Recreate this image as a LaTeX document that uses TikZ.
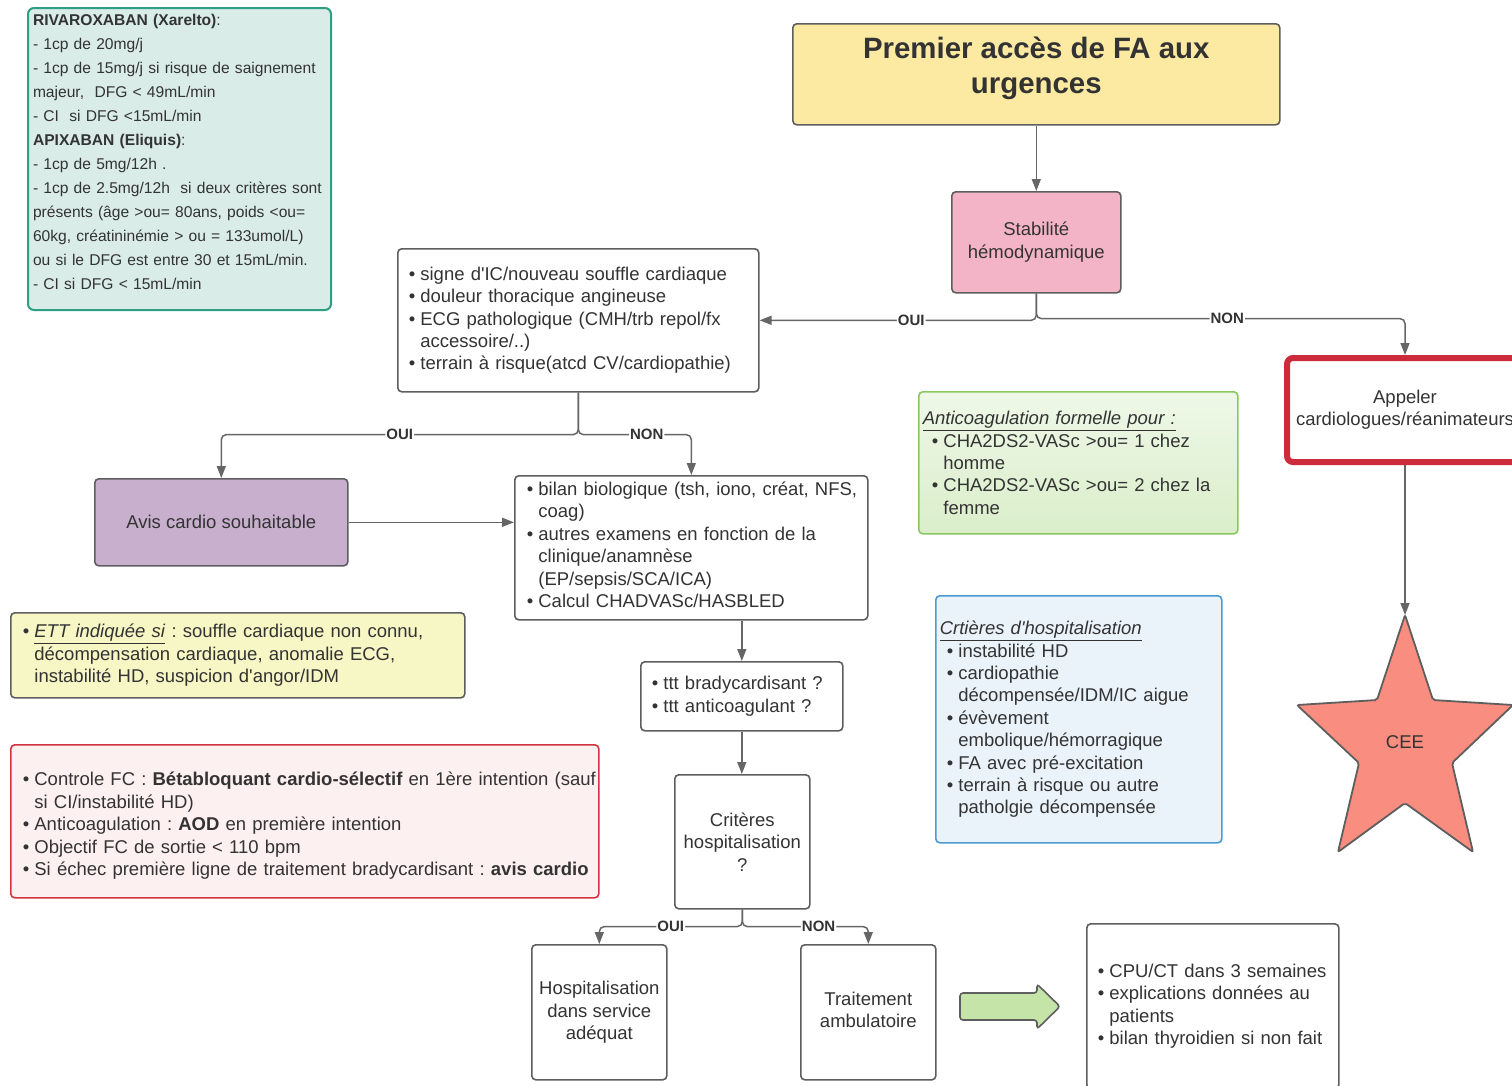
\documentclass[tikz,border=0pt]{standalone}
\usepackage{fontspec}
\setmainfont{Liberation Sans}
\usetikzlibrary{arrows.meta}
\definecolor{bgray}{HTML}{5E5E5E}
\definecolor{cgray}{HTML}{666666}
\definecolor{txt}{HTML}{333333}
\definecolor{tealfill}{HTML}{D9ECE7}
\definecolor{tealdraw}{HTML}{2E9E84}
\definecolor{titlefill}{HTML}{FCE9A2}
\definecolor{pinkfill}{HTML}{F4B4C8}
\definecolor{lavfill}{HTML}{C9AFCE}
\definecolor{ettfill}{HTML}{F7F6C5}
\definecolor{redfill}{HTML}{FDF0F0}
\definecolor{reddraw}{HTML}{D33440}
\definecolor{greentop}{HTML}{EFF8E8}
\definecolor{greenbot}{HTML}{DAEECA}
\definecolor{greendraw}{HTML}{8BC665}
\definecolor{bluefill}{HTML}{EAF2FA}
\definecolor{bluedraw}{HTML}{4D9AD2}
\definecolor{appdraw}{HTML}{CC2B3B}
\definecolor{starfill}{HTML}{F98D7F}
\definecolor{arrfill}{HTML}{C4E4A8}
\newcommand\myfz{\fontsize{18.5pt}{22.4pt}\selectfont}
\newcommand\myfsm{\fontsize{15.6pt}{24pt}\selectfont}
\newcommand\myft{\fontsize{29.4pt}{35.3pt}\selectfont\bfseries}
\newcommand\myfl{\fontsize{15pt}{18pt}\selectfont\bfseries}
\newcommand\lbul{\makebox[11.6pt][l]{•}}
\newcommand\lind{\hspace*{11.6pt}}
\begin{document}
\frenchspacing
\begin{tikzpicture}[x=1pt,y=-1pt,
  box/.style={draw=bgray, line width=1.6pt, rounded corners=4pt, fill=white, text=txt, font=\myfz, anchor=north west, inner ysep=2pt},
  conn/.style={draw=cgray, line width=1.5pt, rounded corners=5pt, -{Triangle[length=12pt,width=9pt]}},
  lab/.style={font=\myfl, text=txt, fill=white, inner sep=1pt}]
\useasboundingbox (0,0) rectangle (1512,1085);
\clip (0,0) rectangle (1512,1085);
\fill[white] (0,0) rectangle (1512,1085);

% teal dosage box
\node[box, draw=tealdraw, fill=tealfill, rounded corners=6pt, line width=2pt,
  minimum width=303pt, minimum height=302pt,
  label={[font=\myfsm, text=txt, align=left, text width=293pt, inner sep=0pt, yshift=7pt]center:{%
\mbox{\textbf{RIVAROXABAN (Xarelto)}:}\\
\mbox{- 1cp de 20mg/j}\\
\mbox{- 1cp de 15mg/j si risque de saignement}\\
\mbox{majeur,\ \ DFG < 49mL/min}\\
\mbox{- CI\ \ si DFG <15mL/min}\\
\mbox{\textbf{APIXABAN (Eliquis)}:}\\
\mbox{- 1cp de 5mg/12h .}\\
\mbox{- 1cp de 2.5mg/12h\ \ si deux critères sont}\\
\mbox{présents (âge >ou= 80ans, poids <ou=}\\
\mbox{60kg, créatininémie > ou = 133umol/L)}\\
\mbox{ou si le DFG est entre 30 et 15mL/min.}\\
\mbox{- CI si DFG < 15mL/min}}}] (teal) at (27,7) {};

% title
\node[box, fill=titlefill, minimum width=487pt, minimum height=101pt,
  label={[font=\myft, text=txt, align=center, yshift=6pt]center:{Premier accès de FA aux\\urgences}}] (title) at (792,23) {};

% stabilite
\node[box, fill=pinkfill, minimum width=169pt, minimum height=101pt, align=center] (stab) at (951,191) {Stabilité\\hémodynamique};

% signs
\node[box, minimum width=361pt, minimum height=143pt, inner xsep=11pt, text width=339pt, align=left] (signs) at (397,248) {%
\mbox{\lbul signe d\textquotesingle IC/nouveau souffle cardiaque}\\
\mbox{\lbul douleur thoracique angineuse}\\
\mbox{\lbul ECG pathologique (CMH/trb repol/fx}\\
\mbox{\lind accessoire/..)}\\
\mbox{\lbul terrain à risque(atcd CV/cardiopathie)}};

% appeler
\node[box, draw=appdraw, line width=6pt, rounded corners=6pt, minimum width=236pt, minimum height=104pt, align=center] (appel) at (1284,355) {Appeler\\cardiologues/réanimateurs};

% anticoagulation
\node[box, draw=greendraw, top color=greentop, bottom color=greenbot, minimum width=319pt, minimum height=142pt, inner xsep=4pt, text width=311pt, align=left] (anti) at (918,391) {%
\mbox{\underline{\textit{Anticoagulation formelle pour :}}}\\
\mbox{\hspace*{9pt}\lbul CHA2DS2-VASc >ou= 1 chez}\\
\mbox{\hspace*{9pt}\lind homme}\\
\mbox{\hspace*{9pt}\lbul CHA2DS2-VASc >ou= 2 chez la}\\
\mbox{\hspace*{9pt}\lind femme}};

% avis cardio
\node[box, fill=lavfill, minimum width=253pt, minimum height=87pt] (avis) at (94,478) {Avis cardio souhaitable};

% bilan
\node[box, minimum width=353pt, minimum height=144pt,
  label={[font=\myfz, text=txt, align=left, text width=329pt, inner sep=0pt, yshift=3pt]center:{%
\mbox{\lbul bilan biologique (tsh, iono, créat, NFS,}\\
\mbox{\lind coag)}\\
\mbox{\lbul autres examens en fonction de la}\\
\mbox{\lind clinique/anamnèse}\\
\mbox{\lind (EP/sepsis/SCA/ICA)}\\
\mbox{\lbul Calcul CHADVASc/HASBLED}}}] (bilan) at (514,475) {};

% criteres d'hospitalisation
\node[box, draw=bluedraw, fill=bluefill, minimum width=286pt, minimum height=247pt, inner xsep=4pt, text width=278pt, align=left] (crit) at (935,595) {%
\mbox{\underline{\textit{Crtières d\textquotesingle hospitalisation}}}\\
\mbox{\hspace*{7pt}\lbul instabilité HD}\\
\mbox{\hspace*{7pt}\lbul cardiopathie}\\
\mbox{\hspace*{7pt}\lind décompensée/IDM/IC aigue}\\
\mbox{\hspace*{7pt}\lbul évèvement}\\
\mbox{\hspace*{7pt}\lind embolique/hémorragique}\\
\mbox{\hspace*{7pt}\lbul FA avec pré-excitation}\\
\mbox{\hspace*{7pt}\lbul terrain à risque ou autre}\\
\mbox{\hspace*{7pt}\lind patholgie décompensée}};

% ETT
\node[box, fill=ettfill, minimum width=454pt, minimum height=85pt, inner xsep=12pt, text width=430pt, align=left] (ett) at (10,612) {%
\mbox{\lbul\underline{\textit{ETT indiquée si}} : souffle cardiaque non connu,}\\
\mbox{\lind décompensation cardiaque, anomalie ECG,}\\
\mbox{\lind instabilité HD, suspicion d\textquotesingle angor/IDM}};

% ttt
\node[box, minimum width=202pt, minimum height=69pt, inner xsep=11pt, text width=180pt, align=left] (ttt) at (640,661) {%
\mbox{\lbul ttt bradycardisant ?}\\
\mbox{\lbul ttt anticoagulant ?}};

% controle FC
\node[box, draw=reddraw, fill=redfill, minimum width=588pt, minimum height=153pt,
  label={[font=\myfz, text=txt, align=left, text width=564pt, inner sep=0pt, yshift=-4.5pt]center:{%
\mbox{\lbul Controle FC : \textbf{Bétabloquant cardio-sélectif} en 1ère intention (sauf}\\
\mbox{\lind si CI/instabilité HD)}\\
\mbox{\lbul Anticoagulation : \textbf{AOD} en première intention}\\
\mbox{\lbul Objectif FC de sortie < 110 bpm}\\
\mbox{\lbul Si échec première ligne de traitement bradycardisant : \textbf{avis cardio}}}}] (ctrl) at (10,744) {};

% criteres ?
\node[box, minimum width=135pt, minimum height=134pt, align=center] (critq) at (674,774) {Critères\\hospitalisation\\?};

% hospitalisation / traitement
\node[box, minimum width=135pt, minimum height=135pt, align=center] (hosp) at (531,944) {Hospitalisation\\dans service\\adéquat};
\node[box, minimum width=135pt, minimum height=135pt, align=center,
  label={[font=\myfz, text=txt, align=center, yshift=2.5pt]center:{Traitement\\ambulatoire}}] (trait) at (800,944) {};

% CPU box
\node[box, minimum width=252pt, minimum height=165pt, inner xsep=11pt, text width=230pt, align=left] (cpu) at (1086,923) {%
\mbox{\lbul CPU/CT dans 3 semaines}\\
\mbox{\lbul explications données au}\\
\mbox{\lind patients}\\
\mbox{\lbul bilan thyroidien si non fait}};

% green block arrow
\draw[draw=bgray, fill=arrfill, line width=1.6pt, rounded corners=3pt]
  (960,993) -- (1037,993) -- (1037,984) -- (1060,1006.5) -- (1037,1029) -- (1037,1020) -- (960,1020) -- cycle;

% star
\draw[draw=bgray, fill=starfill, line width=1.8pt, rounded corners=2pt]
  (1405,615) -- (1433,700) -- (1513,705) -- (1452,763) -- (1473,852) -- (1405,803)
  -- (1338,852) -- (1359,763) -- (1297,705) -- (1377,700) -- cycle;
\coordinate (startop) at (1405,615);
\node[font=\myfz, text=txt] (cee) at (1405,742) {CEE};

% connectors
\draw[conn] (title.south) -- (stab.north);
\draw[conn] (stab.south) |- node[lab, pos=0.726] {OUI} (signs.east);
\draw[conn] (stab.south) -- ++(0,25) -| node[lab, pos=0.259] {NON} (appel.north);
\draw[conn] (signs.south) -- ++(0,42) -| node[lab, pos=0.25] {OUI} (avis.north);
\draw[conn] (signs.south) -- ++(0,42) -| node[lab, pos=0.303] {NON} (bilan.north);
\draw[conn] (avis.east) -- (avis.east -| bilan.west);
\draw[conn] (bilan.south -| ttt.north) -- (ttt.north);
\draw[conn] (ttt.south) -- (ttt.south |- critq.north);
\draw[conn] (critq.south) -- ++(0,17) -| node[lab, pos=0.25] {OUI} (hosp.north);
\draw[conn] (critq.south) -- ++(0,17) -| node[lab, pos=0.303] {NON} (trait.north);
\draw[conn] (appel.south) -- (startop);
\end{tikzpicture}
\end{document}
